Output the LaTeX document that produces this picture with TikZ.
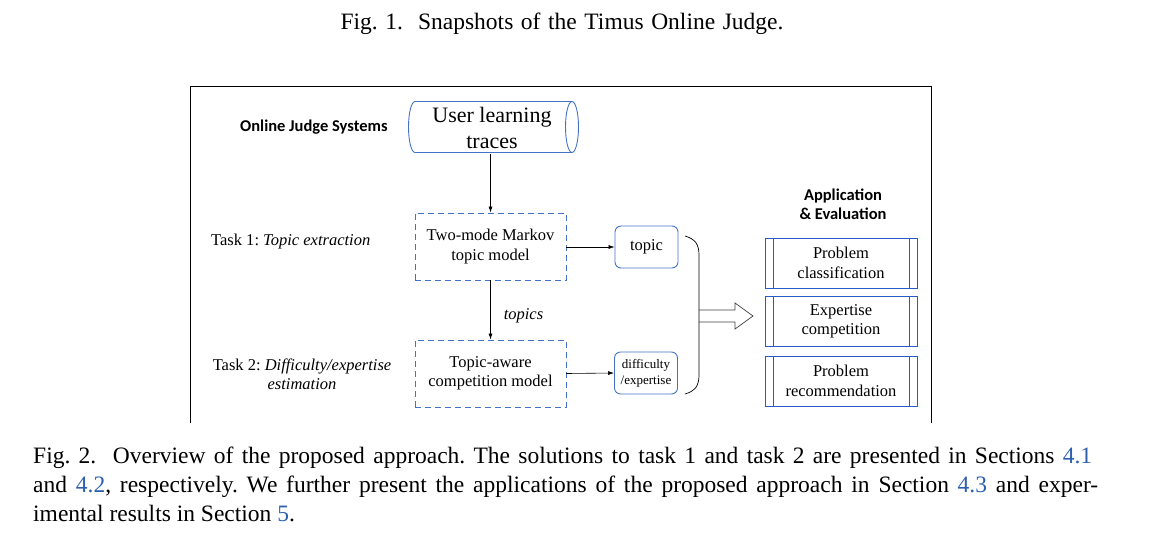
\documentclass[tikz,border=0pt]{standalone}
\usepackage{fontspec}
\setmainfont{Liberation Serif}
\newfontfamily\calib{Carlito}
\usetikzlibrary{arrows.meta}
\definecolor{obl}{RGB}{68,114,196}
\definecolor{appbl}{RGB}{40,90,200}
\definecolor{refbl}{RGB}{45,95,175}
\frenchspacing
\begin{document}
\begin{tikzpicture}[x=1pt,y=-1pt,
  txt/.style={inner sep=0pt,font=\fontsize{16.5}{19.5}\selectfont,align=center},
  dbox/.style={draw=obl,dashed,dash pattern=on 6pt off 4pt,line width=0.9pt,minimum width=151pt,minimum height=67pt,txt},
  rbox/.style={draw=obl,rounded corners=6pt,line width=0.9pt,minimum width=63pt,minimum height=42pt,txt},
  appbox/.style={draw=appbl,line width=0.9pt,minimum width=152pt,minimum height=50pt,txt},
  arr/.style={-{Latex[length=6pt,width=4pt]},line width=0.6pt},
  bold/.style={inner sep=0pt,font=\calib\bfseries\fontsize{16.5}{19.5}\selectfont,align=center},
  capt/.style={inner sep=0pt,font=\fontsize{23.5}{29}\selectfont,anchor=base west}
  ]
\useasboundingbox (0,0) rectangle (1166,554);
% captions
\node[capt,anchor=base] (fig1) at (562,29) {\makebox[443pt][s]{Fig. 1.\ \ Snapshots of the Timus Online Judge.}};
\node[capt] (l1) at (33,463) {\makebox[1059pt][s]{Fig. 2.\ \ Overview of the proposed approach. The solutions to task 1 and task 2 are presented in Sections \textcolor{refbl}{4.1}}};
\node[capt] (l2) at (33,492) {\makebox[1065pt][s]{and \textcolor{refbl}{4.2}, respectively. We further present the applications of the proposed approach in Section \textcolor{refbl}{4.3} and exper-}};
\node[capt] (l3) at (33,521) {imental results in Section \textcolor{refbl}{5}.};
% frame
\draw[line width=0.9pt] (190,423) -- (190,86) -- (931,86) -- (931,423);
% cylinder
\node[inner sep=0pt,minimum width=160pt,minimum height=51pt,font=\fontsize{22}{26}\selectfont,align=center] (ult) at (492,128) {User learning\\traces};
\draw[obl,line width=0.9pt] (572,101.5) -- (415,101.5)
   .. controls (411.4,101.5) and (408.5,112.9) .. (408.5,127)
   .. controls (408.5,141.1) and (411.4,152.5) .. (415,152.5) -- (572,152.5);
\draw[obl,line width=0.9pt] (572,127) ellipse [x radius=6.5,y radius=25.5];
\node[bold,anchor=west] (ojs) at (240,127) {Online Judge Systems};
% tasks
\node[txt,anchor=west] (t1) at (211,241.5) {Task 1: \textit{Topic extraction}};
\node[txt] (t2) at (302,374.5) {Task 2: \textit{Difficulty/expertise}\\\textit{estimation}};
% boxes
\node[dbox] (m1) at (490.5,246.5) {Two-mode Markov\\topic model};
\node[dbox] (m2) at (490.5,373.5) {Topic-aware\\competition model};
\node[rbox] (tp) at (646.5,247) {topic};
\node[rbox,font=\fontsize{13}{16}\selectfont] (df) at (646,373) {difficulty\\/expertise};
\draw[arr] (ult.south -| m1.north) -- (m1.north);
\draw[arr] (m1.south) -- node[right=13pt,font=\fontsize{16.5}{19.5}\selectfont\itshape,inner sep=0pt,yshift=-6pt] {topics} (m2.north);
\draw[arr] (m1.east |- tp) -- (tp.west);
\draw[arr] (m2.east) -- (df.west);
% brace
\coordinate (bt) at (685,236);
\coordinate (bb) at (685,394);
\coordinate (bm) at (699,316);
\draw[line width=0.7pt] (bt) .. controls (695,239) and (699,244) .. (699,255) -- (699,375) .. controls (699,386) and (695,391) .. (bb);
% hollow arrow
\draw[line width=0.7pt,draw=black!75] (699,310) -- (735,310) -- (735,303) -- (753,316) -- (735,329) -- (735,322) -- (699,322);
% application
\node[bold] (ae) at (843,204.5) {Application\\\& Evaluation};
\node[appbox] (a1) at (841,263) {Problem\\classification};
\node[appbox] (a2) at (841,321.5) {Expertise\\competition};
\node[appbox] (a3) at (841,381) {Problem\\recommendation};
\foreach \n in {a1,a2,a3}{
  \draw[appbl,line width=0.9pt] ([xshift=9pt]\n.north west) -- ([xshift=9pt]\n.south west);
  \draw[appbl,line width=0.9pt] ([xshift=-8pt]\n.north east) -- ([xshift=-8pt]\n.south east);
}
\end{tikzpicture}
\end{document}
